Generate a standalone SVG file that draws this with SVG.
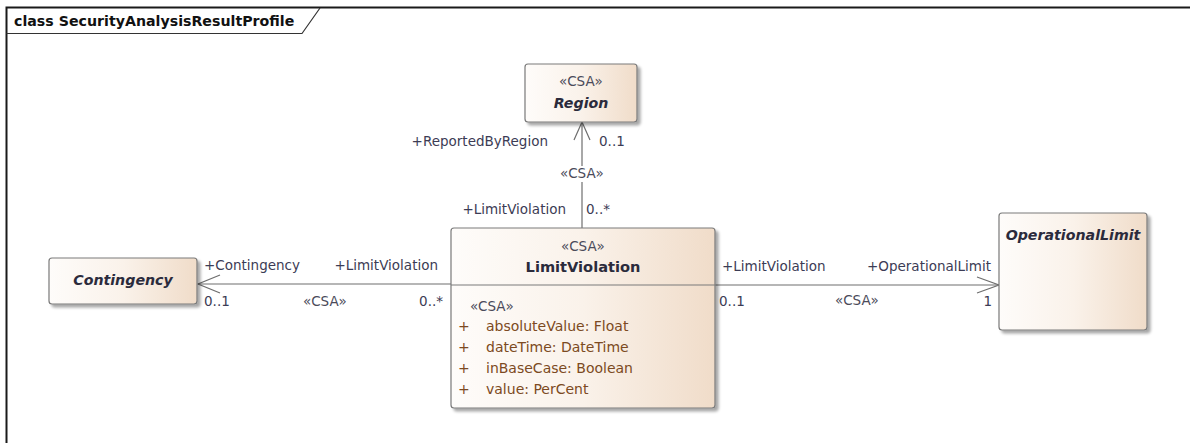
<svg xmlns="http://www.w3.org/2000/svg" width="1190" height="443" viewBox="0 0 1190 443">
<defs>
<linearGradient id="g" x1="0" y1="0" x2="1" y2="0">
<stop offset="0" stop-color="#fefcfa"/>
<stop offset="0.5" stop-color="#faf2ea"/>
<stop offset="1" stop-color="#f0dcc9"/>
</linearGradient>
<filter id="sh" x="-10%" y="-10%" width="130%" height="130%">
<feGaussianBlur in="SourceAlpha" stdDeviation="1.5"/>
<feOffset dx="3" dy="3" result="b"/>
<feComponentTransfer><feFuncA type="linear" slope="0.35"/></feComponentTransfer>
<feMerge><feMergeNode/><feMergeNode in="SourceGraphic"/></feMerge>
</filter>
</defs>
<style>
text{font-family:"DejaVu Sans","Noto Sans",sans-serif;font-size:13.5px}
.box{fill:url(#g);stroke:#7a7a7a;stroke-width:1.2}
.st{fill:#4b4b5a}
.nm{font-weight:bold;font-style:italic;fill:#2b2b3c;font-size:14.2px}
.nb{font-weight:bold;fill:#2b2b3c;font-size:14.6px}
.lb{fill:#3c3c55}
.at{fill:#7c4a22;font-size:14px}
.ln{stroke:#6e6e6e;stroke-width:1.2;fill:none}
</style>
<rect width="1190" height="443" fill="#ffffff"/>
<g id="frame">
<path d="M6.5 443 V7.5 H1190" fill="none" stroke="#1a1a1a" stroke-width="2"/>
<path d="M6.5 33.5 H302 L320 8" fill="none" stroke="#333" stroke-width="1.2"/>
<text x="14" y="26" style="font-weight:bold;font-size:14.2px;fill:#111">class SecurityAnalysisResultProfile</text>
</g>
<g id="connectors">
<path class="ln" d="M582 228 V122"/>
<path class="ln" d="M574 140 L582 122 L590 140"/>
<path class="ln" d="M451 284 H198"/>
<path class="ln" d="M220 275 L198 284 L220 293"/>
<path class="ln" d="M715 285 H999"/>
<path class="ln" d="M977 277 L999 285 L977 293"/>
<rect x="560" y="166" width="44" height="16" fill="#ffffff"/>
<text class="st" x="582" y="178" text-anchor="middle">«CSA»</text>
<text class="lb" x="548" y="146" text-anchor="end">+ReportedByRegion</text>
<text class="lb" x="599" y="146">0..1</text>
<text class="lb" x="566" y="214" text-anchor="end">+LimitViolation</text>
<text class="lb" x="586" y="214">0..*</text>
<text class="lb" x="204" y="270">+Contingency</text>
<text class="lb" x="438" y="270" text-anchor="end">+LimitViolation</text>
<text class="lb" x="204" y="306">0..1</text>
<text class="st" x="325" y="306" text-anchor="middle">«CSA»</text>
<text class="lb" x="443" y="306" text-anchor="end">0..*</text>
<text class="lb" x="722" y="271">+LimitViolation</text>
<text class="lb" x="991" y="271" text-anchor="end">+OperationalLimit</text>
<text class="lb" x="719" y="306">0..1</text>
<text class="st" x="857" y="305" text-anchor="middle">«CSA»</text>
<text class="lb" x="992" y="306" text-anchor="end">1</text>
</g>
<g id="Region">
<rect class="box" x="525" y="64" width="112" height="58" rx="3" filter="url(#sh)"/>
<text class="st" x="581" y="86" text-anchor="middle">«CSA»</text>
<text class="nm" x="581" y="108" text-anchor="middle">Region</text>
</g>
<g id="LimitViolation">
<rect class="box" x="451" y="228" width="264" height="180" rx="3" filter="url(#sh)"/>
<line x1="451" y1="285" x2="715" y2="285" stroke="#7a7a7a" stroke-width="1.2"/>
<text class="st" x="583" y="251" text-anchor="middle">«CSA»</text>
<text class="nb" x="583" y="272" text-anchor="middle">LimitViolation</text>
<text class="st" x="470" y="311">«CSA»</text>
<text class="at" x="458" y="331">+</text><text class="at" x="486" y="331">absoluteValue: Float</text>
<text class="at" x="458" y="352">+</text><text class="at" x="486" y="352">dateTime: DateTime</text>
<text class="at" x="458" y="373">+</text><text class="at" x="486" y="373">inBaseCase: Boolean</text>
<text class="at" x="458" y="394">+</text><text class="at" x="486" y="394">value: PerCent</text>
</g>
<g id="Contingency">
<rect class="box" x="49" y="258" width="148" height="46" rx="3" filter="url(#sh)"/>
<text class="nm" x="123" y="285" text-anchor="middle">Contingency</text>
</g>
<g id="OperationalLimit">
<rect class="box" x="999" y="213" width="148" height="117" rx="3" filter="url(#sh)"/>
<text class="nm" x="1073" y="240" text-anchor="middle">OperationalLimit</text>
</g>
</svg>
